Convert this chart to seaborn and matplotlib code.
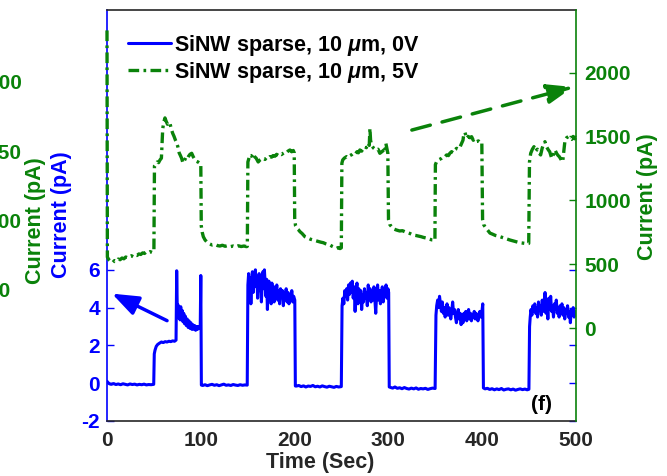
import matplotlib
matplotlib.use("Agg")
import matplotlib.pyplot as plt
import seaborn as sns

# ---- measured photocurrent traces (time in s, current in pA) ----
trace_0v = [
    (0, 0.10), (1, 0.04), (2.5, -0.03), (4.5, -0.06), (7, -0.02), (9.5, -0.07), (12, -0.04),
    (14.5, -0.08), (17, -0.03), (19.5, -0.06), (22, -0.09), (24.5, -0.04), (27, -0.07),
    (29.5, -0.05), (32, -0.09), (34.5, -0.06), (37, -0.08), (39.5, -0.05), (42, -0.09),
    (44.5, -0.07), (47, -0.08), (49.8, -0.06),
    (50.4, 1.55), (51.2, 1.75), (52.5, 1.95), (54, 2.05), (56, 2.12), (58, 2.18), (60, 2.15),
    (62, 2.2), (64, 2.18), (66, 2.22), (68, 2.2), (70, 2.24), (72, 2.22), (73.6, 2.28),
    (74.3, 5.95), (75.0, 3.7), (75.7, 4.15), (76.4, 3.45), (77.1, 3.95), (77.9, 3.35),
    (78.6, 4.05), (79.4, 3.55), (80.2, 3.85), (81, 3.25), (81.8, 3.7), (82.6, 3.15),
    (83.5, 3.55), (84.5, 3.05), (85.5, 3.4), (86.5, 2.95), (87.5, 3.3), (88.5, 2.9),
    (89.5, 3.2), (90.5, 2.85), (91.5, 3.1), (92.5, 2.85), (93.5, 3.05), (94.5, 2.8),
    (95.5, 3.0), (96.5, 2.85), (97.5, 3.0), (98.5, 2.9), (99.4, 3.0), (100.0, 5.7),
    (100.6, -0.1),
    (102, -0.12), (104.5, -0.08), (107, -0.13), (109.5, -0.09), (112, -0.06), (114.5, -0.11),
    (117, -0.08), (119.5, -0.13), (122, -0.09), (124.5, -0.05), (127, -0.11), (129.5, -0.09),
    (132, -0.12), (134.5, -0.07), (137, -0.1), (139.5, -0.12), (142, -0.08), (144.5, -0.11),
    (147, -0.09), (149.5, -0.1),
    (150.2, 5.2), (151, 5.8), (151.8, 4.6), (152.6, 5.6), (153.4, 4.2), (154.2, 5.3),
    (155, 5.9), (155.8, 4.8), (156.6, 5.7), (157.4, 5.2), (158.2, 6.0), (159, 5.1),
    (159.8, 5.6), (160.6, 4.5), (161.4, 5.4), (162.2, 5.8), (163, 4.9), (163.8, 5.5),
    (164.6, 4.3), (165.4, 5.2), (166.2, 5.9), (167, 5.0), (167.8, 6.0), (168.6, 5.3),
    (169.4, 4.6), (170.2, 5.5), (171, 3.9), (171.8, 5.0), (172.6, 5.4), (173.4, 4.7),
    (174.2, 5.2), (175, 4.2), (175.8, 5.3), (176.6, 4.8), (177.4, 5.0), (178.2, 4.3),
    (179, 5.1), (180, 4.6), (181, 5.2), (182, 4.4), (183, 4.9), (184, 4.2), (185, 5.0),
    (186, 4.6), (187, 4.9), (188, 4.1), (189, 4.8), (190, 4.5), (191, 5.0), (192, 4.3),
    (193, 4.8), (194, 4.2), (195, 4.7), (196, 4.4), (197, 4.9), (198, 4.3), (199, 4.6),
    (200.2, 4.4), (200.8, -0.15),
    (202, -0.15), (204.5, -0.12), (207, -0.18), (209.5, -0.14), (212, -0.2), (214.5, -0.15),
    (217, -0.17), (219.5, -0.12), (222, -0.19), (224.5, -0.16), (227, -0.2), (229.5, -0.14),
    (232, -0.18), (234.5, -0.21), (237, -0.16), (239.5, -0.19), (242, -0.22), (244.5, -0.17),
    (247, -0.2), (249.8, -0.18),
    (250.6, 4.1), (251.5, 4.5), (252.5, 4.2), (253.5, 4.9), (254.5, 4.6), (255.5, 5.0),
    (256.5, 4.4), (257.5, 5.2), (258.5, 4.7), (259.5, 5.3), (260.5, 4.8), (261.5, 5.4),
    (262.5, 4.5), (263.5, 5.1), (264.5, 3.8), (265.5, 4.9), (266.5, 5.3), (267.5, 4.2),
    (268.5, 5.0), (269.5, 4.4), (270.5, 4.9), (271.5, 3.9), (272.5, 4.7), (273.5, 4.3),
    (274.5, 5.0), (275.5, 4.5), (276.5, 4.8), (277.5, 4.1), (278.5, 5.2), (279.5, 4.6),
    (280.5, 5.0), (281.5, 4.3), (282.5, 4.9), (283.5, 4.4), (284.5, 5.1), (285.5, 4.5),
    (286.5, 3.7), (287.5, 4.8), (288.5, 5.2), (289.5, 4.4), (290.5, 4.9), (291.5, 4.2),
    (292.5, 4.7), (293.5, 5.1), (294.5, 4.3), (295.5, 4.8), (296.5, 4.6), (297.5, 5.2),
    (298.5, 4.5), (299.5, 5.0), (300.3, 4.8), (300.9, -0.2),
    (302, -0.22), (304.5, -0.26), (307, -0.2), (309.5, -0.27), (312, -0.24), (314.5, -0.29),
    (317, -0.23), (319.5, -0.28), (322, -0.31), (324.5, -0.26), (327, -0.3), (329.5, -0.25),
    (332, -0.32), (334.5, -0.28), (337, -0.3), (339.5, -0.27), (342, -0.33), (344.5, -0.29),
    (347, -0.26), (349.8, -0.28),
    (350.7, 3.6), (351.5, 4.1), (352.5, 4.4), (353.5, 4.0), (354.5, 4.6), (355.5, 4.2),
    (356.5, 3.8), (357.5, 4.3), (358.5, 3.7), (359.5, 4.0), (360.5, 3.5), (361.5, 3.9),
    (362.5, 4.2), (363.5, 3.6), (364.5, 4.0), (365.5, 3.7), (366.5, 3.4), (367.5, 3.8),
    (368.5, 4.3), (369.5, 3.7), (370.5, 3.9), (371.5, 3.5), (372.5, 3.2), (373.5, 3.6),
    (374.5, 3.9), (375.5, 3.4), (376.5, 3.7), (377.5, 3.1), (378.5, 3.6), (379.5, 3.2),
    (380.5, 3.7), (381.5, 3.4), (382.5, 3.8), (383.5, 3.3), (384.5, 3.6), (385.5, 3.9),
    (386.5, 3.4), (387.5, 3.7), (388.5, 3.3), (389.5, 3.6), (390.5, 3.5), (391.5, 3.8),
    (392.5, 3.4), (393.5, 3.7), (394.5, 3.5), (395.5, 3.3), (396.5, 3.6), (397.5, 3.8),
    (398.5, 3.5), (399.5, 3.7), (400.6, 4.2), (401.3, -0.25),
    (403, -0.3), (405.5, -0.27), (408, -0.33), (410.5, -0.29), (413, -0.35), (415.5, -0.3),
    (418, -0.34), (420.5, -0.28), (423, -0.36), (425.5, -0.32), (428, -0.3), (430.5, -0.35),
    (433, -0.31), (435.5, -0.37), (438, -0.33), (440.5, -0.3), (443, -0.34), (445.5, -0.31),
    (448, -0.35), (449.8, -0.32),
    (450.5, 3.0), (451.2, 3.5), (452, 3.9), (453, 3.6), (454, 4.1), (455, 3.8), (456, 4.2),
    (457, 3.7), (458, 4.0), (459, 3.5), (460, 4.3), (461, 3.9), (462, 4.1), (463, 3.6),
    (464, 4.4), (465, 3.8), (466, 4.0), (467, 4.8), (468, 3.7), (469, 4.3), (470, 3.4),
    (471, 4.5), (472, 3.9), (473, 4.6), (474, 3.8), (475, 4.1), (476, 3.5), (477, 4.2),
    (478, 3.9), (479, 4.4), (480, 3.7), (481, 4.0), (482, 3.5), (483, 4.1), (484, 3.8),
    (485, 4.2), (486, 3.6), (487, 4.0), (488, 3.4), (489, 3.9), (490, 3.7), (491, 4.1),
    (492, 3.5), (493, 3.8), (494, 3.2), (495, 3.9), (496, 3.6), (497, 4.0), (498, 3.5),
    (499, 3.8), (500, 3.7),
]

trace_5v = [
    (0, 2330), (0.4, 555), (2, 535), (4, 520), (6, 512), (8, 528), (10, 522), (12, 540),
    (14, 535), (16, 548), (18, 542), (20, 556), (22, 550), (24, 560), (26, 566), (28, 558),
    (30, 572), (32, 568), (34, 580), (36, 576), (38, 588), (40, 584), (42, 596), (44, 590),
    (46, 598), (48, 592), (50, 600),
    (50.6, 1270), (52, 1285), (53.5, 1300), (55, 1295), (56.5, 1316), (58, 1330),
    (59.4, 1560), (60.5, 1610), (61.8, 1645), (63, 1620), (64.5, 1595), (66, 1610),
    (67.2, 1600), (68.5, 1560), (70, 1525), (71.5, 1500), (73, 1470), (74.3, 1450),
    (75.5, 1420), (77, 1370), (78, 1355), (79.5, 1330), (81, 1292), (82.5, 1310),
    (84, 1335), (85.7, 1325), (87, 1345), (88.5, 1360), (90.3, 1368), (92, 1340),
    (93.9, 1316), (95.5, 1305), (97, 1300), (98.5, 1292), (100.0, 1285),
    (100.5, 800), (101.5, 750), (102.7, 715), (104.5, 690), (106.2, 676), (108, 665),
    (109.7, 658), (112, 650), (115, 655), (118, 645), (120.4, 642), (123, 648), (126, 640),
    (129, 646), (132, 638), (134.6, 642), (137, 636), (140, 644), (143, 638), (146, 642),
    (148.8, 637), (149.6, 640),
    (150.2, 1300), (151, 1320), (152.3, 1355), (154, 1345), (155.9, 1368), (157.5, 1340),
    (159, 1330), (161.2, 1300), (163, 1315), (165, 1325), (166.6, 1329), (168.5, 1320),
    (170, 1335), (172, 1330), (173.7, 1342), (175.5, 1338), (177, 1350), (179, 1345),
    (180.8, 1360), (182.5, 1352), (184, 1365), (186, 1358), (187.9, 1368), (189.5, 1375),
    (191, 1370), (193, 1385), (195, 1394), (196.8, 1380), (198.6, 1390), (199.6, 1372),
    (200.1, 860), (201, 800), (202.5, 780), (204, 770), (205.8, 754), (208, 740), (211, 715),
    (214, 705), (217, 695), (219.9, 689), (223, 682), (226, 676), (228, 672), (230.6, 668),
    (233, 660), (235, 655), (237.7, 650), (240, 640), (242.5, 632), (244.8, 624),
    (246.5, 630), (248.4, 622), (249.8, 628),
    (250.4, 1290), (251.3, 1316), (253, 1330), (255.4, 1342), (257, 1335), (259, 1350),
    (261, 1358), (262.5, 1368), (264.5, 1360), (266.5, 1380), (268, 1372), (269.6, 1394),
    (271.5, 1385), (273, 1405), (274.9, 1420), (276.5, 1412), (278.5, 1446), (279.6, 1430),
    (280.3, 1563), (281, 1470), (282, 1433), (284, 1410), (286.7, 1394), (289, 1400),
    (290.9, 1368), (293, 1380), (295.2, 1394), (296.5, 1375), (297.3, 1446), (298.5, 1400),
    (299.4, 1368),
    (300.1, 850), (301.5, 810), (303.4, 793), (306, 775), (308.7, 767), (312, 760),
    (315, 762), (317.6, 754), (320, 748), (323, 740), (326.4, 728), (329, 725), (332, 720),
    (335, 715), (337.1, 710), (340, 705), (342, 700), (344.2, 695), (346.5, 690),
    (348.5, 689), (349.6, 686),
    (350.1, 1280), (351.4, 1302), (353, 1315), (355, 1322), (356.7, 1329), (358.5, 1340),
    (360, 1338), (362, 1355), (364, 1350), (365.5, 1368), (367.4, 1381), (369, 1372),
    (371, 1395), (372.7, 1407), (374.5, 1400), (376.5, 1420), (378, 1446), (379.5, 1470),
    (380.5, 1524), (381.7, 1530), (383.4, 1485), (385, 1500), (387, 1490), (388.7, 1498),
    (390.5, 1470), (392, 1480), (394, 1459), (396, 1465), (398.3, 1446), (399.6, 1450),
    (400.4, 850), (401.5, 810), (403, 793), (405.5, 770), (408.3, 743), (411, 735),
    (414, 725), (417, 720), (419, 715), (422, 708), (425, 700), (427, 695), (429.6, 689),
    (432, 684), (435, 678), (438, 672), (440.3, 668), (443, 665), (446, 662), (448.1, 660),
    (449.6, 662),
    (450.4, 1300), (451.7, 1368), (453.5, 1400), (455.2, 1420), (457, 1385), (458.8, 1400),
    (460.5, 1370), (462.3, 1355), (464, 1410), (465.5, 1440), (466.9, 1459), (468.5, 1420),
    (470.5, 1395), (472, 1380), (474.1, 1329), (476, 1360), (477.6, 1394), (479.5, 1365),
    (481, 1350), (482.2, 1342), (484, 1320), (485.8, 1302), (487, 1380), (488.3, 1472),
    (490, 1490), (491.8, 1498), (493.5, 1485), (495.4, 1477), (497, 1500), (498.5, 1482),
    (500, 1490),
]

time_0v, current_0v = (list(c) for c in zip(*trace_0v))
time_5v, current_5v = (list(c) for c in zip(*trace_5v))

series_labels = [r"SiNW sparse, 10 $\mu$m, 0V", r"SiNW sparse, 10 $\mu$m, 5V"]
x_ticks = [0, 100, 200, 300, 400, 500]
left_ticks = [-2, 0, 2, 4, 6]
right_ticks = [0, 500, 1000, 1500, 2000]
side_ticks = [50, 100, 150, 200]

BLUE = "#0000ff"
GREEN = "#0a820a"
DARK = "#262626"

sns.set_theme(style="white")
plt.rcParams["font.family"] = ["Liberation Sans", "DejaVu Sans"]
plt.rcParams["font.weight"] = "bold"
plt.rcParams["axes.labelweight"] = "bold"
plt.rcParams["axes.unicode_minus"] = False
plt.rcParams["mathtext.fontset"] = "custom"
plt.rcParams["mathtext.it"] = "Liberation Sans:italic:bold"
plt.rcParams["mathtext.rm"] = "Liberation Sans:bold"

TICK_FS = 15
LABEL_FS = 15.5

fig = plt.figure(figsize=(6.67, 4.76), dpi=100)
fig.patch.set_facecolor("white")
ax = fig.add_axes([107 / 667, 1 - 421 / 476, 469 / 667, 411 / 476])
ax2 = ax.twinx()
ax3 = ax.twinx()

# 0 V trace on the left axis
sns.lineplot(x=time_0v, y=current_0v, ax=ax, color=BLUE, lw=2.2,
             estimator=None, sort=False)
line0 = ax.lines[-1]

# 5 V trace on the right axis
sns.lineplot(x=time_5v, y=current_5v, ax=ax2, color=GREEN, lw=2.4,
             estimator=None, sort=False)
line5 = ax2.lines[-1]
line5.set_dashes([3.2, 1.3, 0.8, 1.3])
line5.set_clip_on(False)

# axis limits and ticks
ax.set_xlim(0, 500)
ax.set_ylim(-2, 19.75)
ax.set_xticks(x_ticks)
ax.set_yticks(left_ticks)
ax2.set_ylim(-728, 2490)
ax2.set_yticks(right_ticks)

for a in (ax, ax2, ax3):
    a.grid(False)

ax.tick_params(axis="x", direction="in", length=5, width=1, colors=DARK,
               labelsize=TICK_FS, pad=7, top=False)
ax.tick_params(axis="y", direction="in", length=5, width=1, colors=BLUE,
               labelsize=TICK_FS, pad=5, left=True, right=True)
ax2.tick_params(axis="y", direction="in", length=5, width=1, colors=GREEN,
                labelsize=TICK_FS, pad=6)
for lab in ax.get_xticklabels():
    lab.set_color(DARK)

ax.spines["left"].set_color(BLUE)
ax.spines["right"].set_visible(False)
for s in ("top", "bottom"):
    ax.spines[s].set_color(DARK)
    ax.spines[s].set_linewidth(1.2)
ax.spines["left"].set_linewidth(1.2)
for s in ("left", "top", "bottom"):
    ax2.spines[s].set_visible(False)
ax2.spines["right"].set_color(GREEN)
ax2.spines["right"].set_linewidth(1.2)

# neighbouring panel's current axis at the far left
ax3.set_ylim(-44.5, 251.8)
ax3.set_yticks(side_ticks)
ax3.set_yticklabels([str(v) for v in side_ticks])
for s in ax3.spines.values():
    s.set_visible(False)
ax3.spines["right"].set_position(("axes", -0.256))
ax3.tick_params(axis="y", length=0, pad=0, colors=GREEN, labelsize=TICK_FS)
ax3.set_ylabel("Current (pA)", color=GREEN, fontsize=LABEL_FS)
ax3.yaxis.set_label_coords(-0.175, 0.487)

# axis labels
ax.set_xlabel("Time (Sec)", color=DARK, fontsize=LABEL_FS)
ax.xaxis.set_label_coords(0.454, -0.075)
ax.set_ylabel("Current (pA)", color=BLUE, fontsize=LABEL_FS)
ax.yaxis.set_label_coords(-0.0746, 0.501)
ax2.set_ylabel("Current (pA)", color=GREEN, fontsize=LABEL_FS)
ax2.yaxis.set_label_coords(1.13, 0.545)

# arrows pointing each trace to its axis
ax.annotate("", xy=(5.3, 4.74), xytext=(64, 3.31),
            arrowprops=dict(arrowstyle="-|>,head_length=0.8,head_width=0.3",
                            color=BLUE, lw=2.5, mutation_scale=20,
                            shrinkA=0, shrinkB=0))
ax2.annotate("", xy=(497, 1887), xytext=(325, 1550),
             arrowprops=dict(arrowstyle="-|>,head_length=0.8,head_width=0.3",
                             color=GREEN, lw=2.5, mutation_scale=20,
                             linestyle=(0, (5.5, 3.5)), shrinkA=0, shrinkB=0))

ax.text(0.927, 0.039, "(f)", transform=ax.transAxes, ha="center", va="center",
        fontsize=TICK_FS, fontweight="bold", color="black")

leg = ax2.legend([line0, line5], series_labels, loc="upper left",
                 bbox_to_anchor=(0.035, 0.955), frameon=False, fontsize=15.5,
                 handlelength=2.0, handletextpad=0.15, labelspacing=0.1,
                 borderpad=0.2, borderaxespad=0)
for txt in leg.get_texts():
    txt.set_color("black")

fig.savefig("out.png", dpi=100, facecolor="white")
